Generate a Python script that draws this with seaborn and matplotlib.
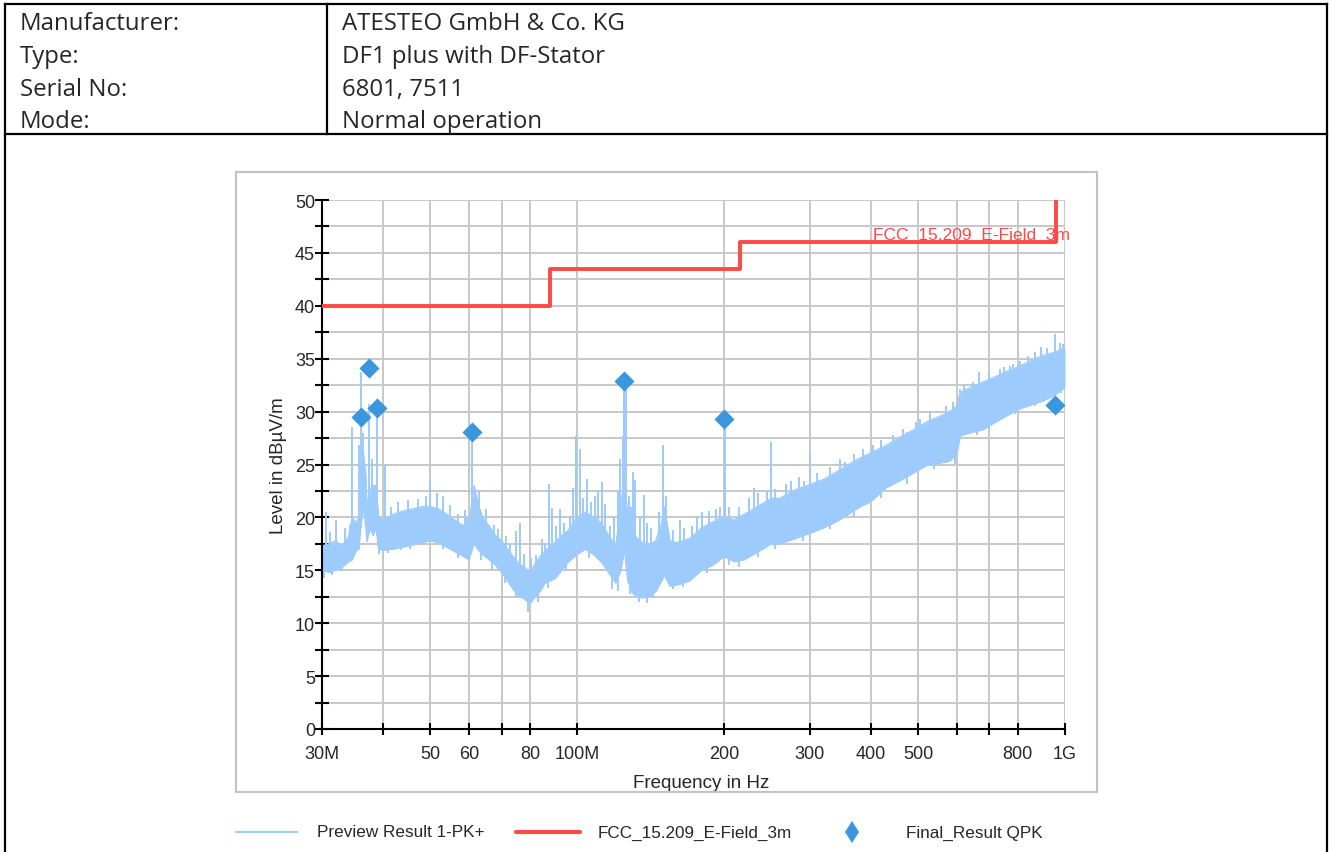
import numpy as np
import pandas as pd
import matplotlib
matplotlib.use("Agg")
import matplotlib.pyplot as plt
import matplotlib.ticker as mticker
from matplotlib.lines import Line2D
from matplotlib.patches import Rectangle
import seaborn as sns

# ---------------- header table ----------------
header_keys = ["Manufacturer:", "Type:", "Serial No:", "Mode:"]
header_values = ["ATESTEO GmbH & Co. KG", "DF1 plus with DF-Stator", "6801, 7511", "Normal operation"]

# ---------------- preview scan (PK+), envelope of the trace ----------------
band_freq_mhz = [30, 31, 32, 33, 34, 34.6, 35.2, 35.7, 36.0, 36.5, 36.9, 37.1, 37.6, 38.2, 38.7,
                 39.2, 40, 42, 44, 46, 48, 50, 52, 54, 56, 58, 60, 61.5, 62.5, 64, 66, 68, 70,
                 72, 74, 76, 78, 80, 82, 84, 86, 88, 90, 93, 96, 100, 104, 108, 112, 116, 120,
                 123, 125, 127, 130, 133, 136, 140, 145, 149, 151, 155, 160, 170, 180, 190, 200,
                 210, 220, 230, 240, 250, 260, 280, 300, 320, 340, 360, 380, 400, 430, 460, 490,
                 520, 550, 580, 600, 610, 640, 680, 720, 760, 800, 850, 900, 950, 1000]
band_lo = [15.0, 14.8, 15.0, 15.3, 15.8, 16.0, 16.8, 17.0, 19.0, 21.0, 19.0, 17.7, 19.0, 18.3, 19.0,
           17.0, 16.9, 17.0, 17.2, 17.4, 17.6, 17.8, 17.6, 17.2, 16.8, 16.4, 16.0, 17.5, 17.0, 16.5,
           16.0, 15.5, 14.8, 14.0, 13.2, 12.5, 12.3, 11.8, 12.5, 13.0, 13.8, 14.0, 14.2, 15.0, 15.8,
           16.5, 17.0, 16.5, 15.8, 14.8, 13.8, 15.0, 17.0, 14.0, 12.8, 12.5, 12.4, 12.5, 13.0, 14.0,
           14.5, 13.5, 13.6, 14.0, 15.0, 15.5, 16.3, 15.8, 16.0, 16.5, 17.0, 17.5, 17.5, 18.0, 18.5,
           19.0, 19.6, 20.3, 21.0, 21.5, 22.8, 23.5, 24.2, 24.9, 25.1, 25.3, 26.0, 27.7, 28.0, 28.3,
           29.0, 29.6, 30.2, 30.6, 31.0, 31.5, 32.3]
band_hi = [17.3, 17.5, 17.8, 17.3, 18.2, 20.0, 19.5, 20.0, 24.0, 26.0, 24.0, 21.0, 22.5, 23.0, 23.0,
           20.0, 19.8, 20.3, 20.6, 20.8, 21.0, 21.0, 20.8, 20.3, 19.8, 19.3, 19.2, 23.0, 21.5, 20.0,
           19.2, 18.3, 17.8, 17.0, 16.3, 15.6, 15.3, 14.8, 15.6, 16.3, 16.8, 17.3, 17.6, 18.3, 18.8,
           20.0, 20.5, 20.0, 19.5, 18.3, 17.3, 21.0, 24.0, 20.0, 18.5, 18.0, 17.6, 17.3, 17.8, 19.5,
           21.0, 17.8, 17.6, 18.0, 19.0, 19.6, 20.0, 19.8, 20.3, 20.8, 21.3, 21.8, 21.8, 22.6, 23.1,
           23.6, 24.3, 25.0, 25.6, 26.1, 26.8, 27.6, 28.3, 29.0, 29.5, 30.0, 30.5, 31.8, 32.3, 32.8,
           33.3, 33.8, 34.2, 34.8, 35.3, 35.6, 36.0]

# narrow emissions and noise peaks rising out of the floor
spike_freq_mhz = [30.6, 31.2, 32.0, 33.5, 34.2, 34.6, 35.7, 36.0, 36.4, 37.4, 37.9, 38.9, 40.4,
                  41.5, 43.0, 45.0, 47.2, 49.0, 50.0, 51.5, 53.0, 55.0, 57.0, 58.9, 59.5, 61.0,
                  63.0, 65.0, 67.5, 69.0, 71.5, 73.0, 74.9, 76.5, 78.0, 80.5, 82.5, 84.6, 86.0,
                  87.6, 88.9, 90.5, 92.2, 94.0, 96.5, 98.2, 99.6, 101.4, 103, 104.6, 107, 109,
                  110.5, 112.3, 114.0, 117, 119, 121.5, 122.5, 124.0, 124.8, 126.0, 127.5, 129,
                  130.0, 131.2, 134.5, 137.3, 139, 142, 147, 150.2, 152, 157, 162.5, 166, 172,
                  176, 180.0, 186, 193, 196, 200.5, 205, 215, 225, 230.4, 235, 245, 249.7, 255,
                  267.6, 275, 285, 291.8, 300.6, 310, 330, 345, 354, 370, 385, 391, 404, 420, 445,
                  465, 474, 496, 504, 530, 570, 589, 609, 620, 649, 666, 700, 736, 750, 771, 782,
                  810, 841, 870, 893, 920, 954, 975, 991]
spike_top = [20.5, 18.6, 19.8, 19.0, 19.3, 28.5, 26.8, 33.7, 28.0, 30.7, 25.5, 30.0, 25.0,
             21.0, 21.5, 21.6, 21.7, 22.0, 23.3, 22.3, 22.0, 21.2, 20.3, 20.7, 20.0, 27.4,
             22.5, 20.8, 19.3, 18.9, 18.2, 17.5, 18.7, 19.5, 16.5, 16.2, 16.4, 18.0, 17.6,
             23.2, 20.9, 19.2, 20.8, 19.5, 20.0, 22.8, 27.7, 26.5, 21.8, 23.6, 21.5, 22.0,
             22.6, 23.3, 21.3, 19.2, 20.0, 22.5, 25.5, 27.7, 32.8, 32.5, 22.0, 21.0,
             24.3, 23.5, 20.0, 22.1, 19.5, 19.0, 20.5, 26.8, 22.0, 18.8, 19.8, 19.0, 19.2,
             20.0, 20.5, 20.6, 20.8, 21.0, 28.4, 21.0, 21.0, 21.8, 22.8, 22.3, 22.5, 27.1, 22.7,
             23.2, 23.4, 23.8, 23.4, 26.0, 24.2, 24.8, 25.5, 25.2, 26.0, 26.5, 25.8, 26.8, 27.3, 27.8,
             28.4, 28.1, 29.0, 29.3, 30.0, 30.5, 30.9, 32.1, 32.6, 32.8, 33.7, 33.6, 34.0, 34.2, 34.3, 34.5,
             34.8, 35.3, 35.6, 36.1, 36.0, 37.3, 36.5, 36.4]

# noise troughs dipping below the floor
dip_freq_mhz = [30.3, 31.4, 33.0, 39.3, 41.0, 43.5, 45.5, 53.0, 57.0, 63.5, 67, 71, 75, 79.5,
                83, 87, 95, 106, 118, 121.5, 128.5, 134, 139, 143, 157, 165, 185, 205, 215,
                235, 255, 290, 330, 370, 420, 475, 540, 595, 660, 700, 790, 870, 980]
dip_bottom = [14.3, 14.6, 14.9, 16.5, 16.6, 16.9, 17.0, 17.0, 16.2, 16.0, 15.0, 13.8, 12.5, 11.1,
              12.0, 13.3, 15.0, 16.2, 13.2, 13.0, 12.8, 12.0, 11.9, 12.4, 13.2, 13.4, 14.7, 15.5, 15.3,
              16.3, 17.0, 17.8, 18.9, 20.0, 21.8, 23.2, 24.6, 25.0, 27.8, 28.3, 29.8, 30.5, 31.8]

# ---------------- FCC 15.209 radiated limit, 3 m ----------------
limit_name = "FCC_15.209_E-Field_3m"
limit_freq_mhz = [30, 88, 216, 960, 1000]
limit_level = [40.0, 43.5, 46.0, 54.0, 54.0]

# ---------------- final quasi-peak results ----------------
qpk_freq_mhz = [36.1, 37.4, 38.9, 60.9, 124.8, 200.2, 954.0]
qpk_level = [29.5, 34.1, 30.3, 28.1, 32.9, 29.3, 30.6]

# ---------------- axis ticks ----------------
xtick_mhz = [30, 40, 50, 60, 70, 80, 100, 200, 300, 400, 500, 600, 700, 800, 1000]
xtick_labels = ["30M", "", "50", "60", "", "80", "100M", "200", "300", "400", "500", "", "", "800", "1G"]

# ---------------- styling ----------------
sns.set_style("white")
plt.rcParams["font.family"] = ["Liberation Sans", "DejaVu Sans"]

TRACE = "#9dcbfc"
LIMIT = "#ff4848"
QPK = "#3b97dd"
GRID = "#c8c8c8"

W, H = 1332, 853
fig = plt.figure(figsize=(W / 100, H / 100), dpi=100)
fig.patch.set_facecolor("white")


def fx(x):
    return x / W


def fy(y):
    return 1 - y / H


ax = fig.add_axes([fx(322), fy(730), (1065 - 322) / W, (730 - 201) / H])
ax.set_facecolor("white")

MHZ = 1e6
scan = pd.DataFrame({"freq": np.array(band_freq_mhz) * MHZ, "lo": band_lo, "hi": band_hi})
spikes = pd.DataFrame({"freq": np.array(spike_freq_mhz) * MHZ, "top": spike_top})
dips = pd.DataFrame({"freq": np.array(dip_freq_mhz) * MHZ, "bottom": dip_bottom})
limit = pd.DataFrame({"freq": np.array(limit_freq_mhz) * MHZ, "level": limit_level})
qpk = pd.DataFrame({"freq": np.array(qpk_freq_mhz) * MHZ, "level": qpk_level})

ax.set_xscale("log")

# preview trace: noise band, then peaks and troughs reaching out of it
ax.fill_between(scan["freq"], scan["lo"], scan["hi"], color=TRACE, lw=0, zorder=2)
sns.lineplot(data=scan, x="freq", y="hi", color=TRACE, lw=1.0, ax=ax, zorder=2)
sns.lineplot(data=scan, x="freq", y="lo", color=TRACE, lw=1.0, ax=ax, zorder=2)
floor_at_spike = np.interp(np.log10(spikes["freq"]), np.log10(scan["freq"]), scan["lo"])
ax.vlines(spikes["freq"], floor_at_spike, spikes["top"], color=TRACE, lw=1.4, zorder=2)
roof_at_dip = np.interp(np.log10(dips["freq"]), np.log10(scan["freq"]), scan["hi"])
ax.vlines(dips["freq"], dips["bottom"], roof_at_dip, color=TRACE, lw=1.4, zorder=2)

# limit line; its in-plot label shows the underscores as gaps (they are hidden by the line)
sns.lineplot(data=limit, x="freq", y="level", color=LIMIT, lw=2.8, drawstyle="steps-post",
             ax=ax, zorder=4)
ax.text(404 * MHZ, 46.3, limit_name.replace("_", "  "), color=LIMIT, fontsize=12.5,
        ha="left", va="baseline", zorder=3)

# final results
sns.scatterplot(data=qpk, x="freq", y="level", marker="D", s=105, color=QPK, linewidth=0,
                ax=ax, zorder=5)

ax.set_xlim(30 * MHZ, 1000 * MHZ)
ax.set_ylim(0, 50)

ax.xaxis.set_major_locator(mticker.FixedLocator([f * MHZ for f in xtick_mhz]))
ax.xaxis.set_major_formatter(mticker.FixedFormatter(xtick_labels))
ax.xaxis.set_minor_locator(mticker.NullLocator())
ax.yaxis.set_major_locator(mticker.MultipleLocator(5))
ax.yaxis.set_minor_locator(mticker.MultipleLocator(2.5))

ax.grid(which="both", color=GRID, lw=1.4)
ax.set_axisbelow(True)
for side in ("top", "right"):
    ax.spines[side].set_visible(False)
for side in ("left", "bottom"):
    ax.spines[side].set_color("black")
    ax.spines[side].set_linewidth(1.5)

ax.tick_params(axis="y", which="both", direction="inout", length=9.4, width=1.5,
               color="black", pad=0.3, labelsize=13, left=True)
ax.tick_params(axis="x", which="major", direction="inout", length=8.6, width=1.5,
               color="black", pad=7.0, labelsize=13, bottom=True)

ax.set_xlabel("Frequency in Hz", fontsize=13.5)
ax.set_ylabel("Level in dBµV/m", fontsize=13.5)
ax.xaxis.set_label_coords((701.5 - 322) / 743, -(775 - 730) / 529)
ax.yaxis.set_label_coords(-0.047, 0.5)

# chart frame
fig.add_artist(Rectangle((fx(236), fy(793)), (1097 - 236) / W, (793 - 173) / H,
                         transform=fig.transFigure, fill=False, ec="#c2c2c2", lw=1.5))


# header table borders
def hline(x0, x1, y, **kw):
    fig.add_artist(Line2D([fx(x0), fx(x1)], [fy(y), fy(y)], transform=fig.transFigure, **kw))


def vline(x, y0, y1, **kw):
    fig.add_artist(Line2D([fx(x), fx(x)], [fy(y0), fy(y1)], transform=fig.transFigure, **kw))


border = dict(color="black", lw=1.6, solid_capstyle="projecting")
hline(5, 1327, 5, **border)
hline(5, 1327, 135, **border)
vline(5, 5, 853, **border)
vline(1327, 5, 853, **border)
vline(327, 5, 135, **border)

baselines = [30, 63, 96, 128]
for key, val, yb in zip(header_keys, header_values, baselines):
    fig.text(fx(20), fy(yb), key, fontsize=17.3, family=["Open Sans", "DejaVu Sans"],
             ha="left", va="baseline")
    fig.text(fx(342), fy(yb), val, fontsize=17.3, family=["Open Sans", "DejaVu Sans"],
             ha="left", va="baseline")

# legend row under the chart
ly = 833
fig.add_artist(Line2D([fx(236), fx(297)], [fy(ly), fy(ly)], transform=fig.transFigure,
                      color=TRACE, lw=1.5))
fig.text(fx(317), fy(ly), "Preview Result 1-PK+", fontsize=12.3, ha="left", va="center")
fig.add_artist(Line2D([fx(516), fx(580)], [fy(ly), fy(ly)], transform=fig.transFigure,
                      color=LIMIT, lw=3))
fig.text(fx(598), fy(ly), limit_name, fontsize=12.3, ha="left", va="center")
fig.add_artist(Line2D([fx(852)], [fy(ly)], transform=fig.transFigure, marker="d",
                      markersize=11.7, color=QPK, markeredgewidth=0, lw=0))
fig.text(fx(906), fy(ly), "Final_Result QPK", fontsize=12.3, ha="left", va="center")

fig.savefig("out.png", dpi=100)
